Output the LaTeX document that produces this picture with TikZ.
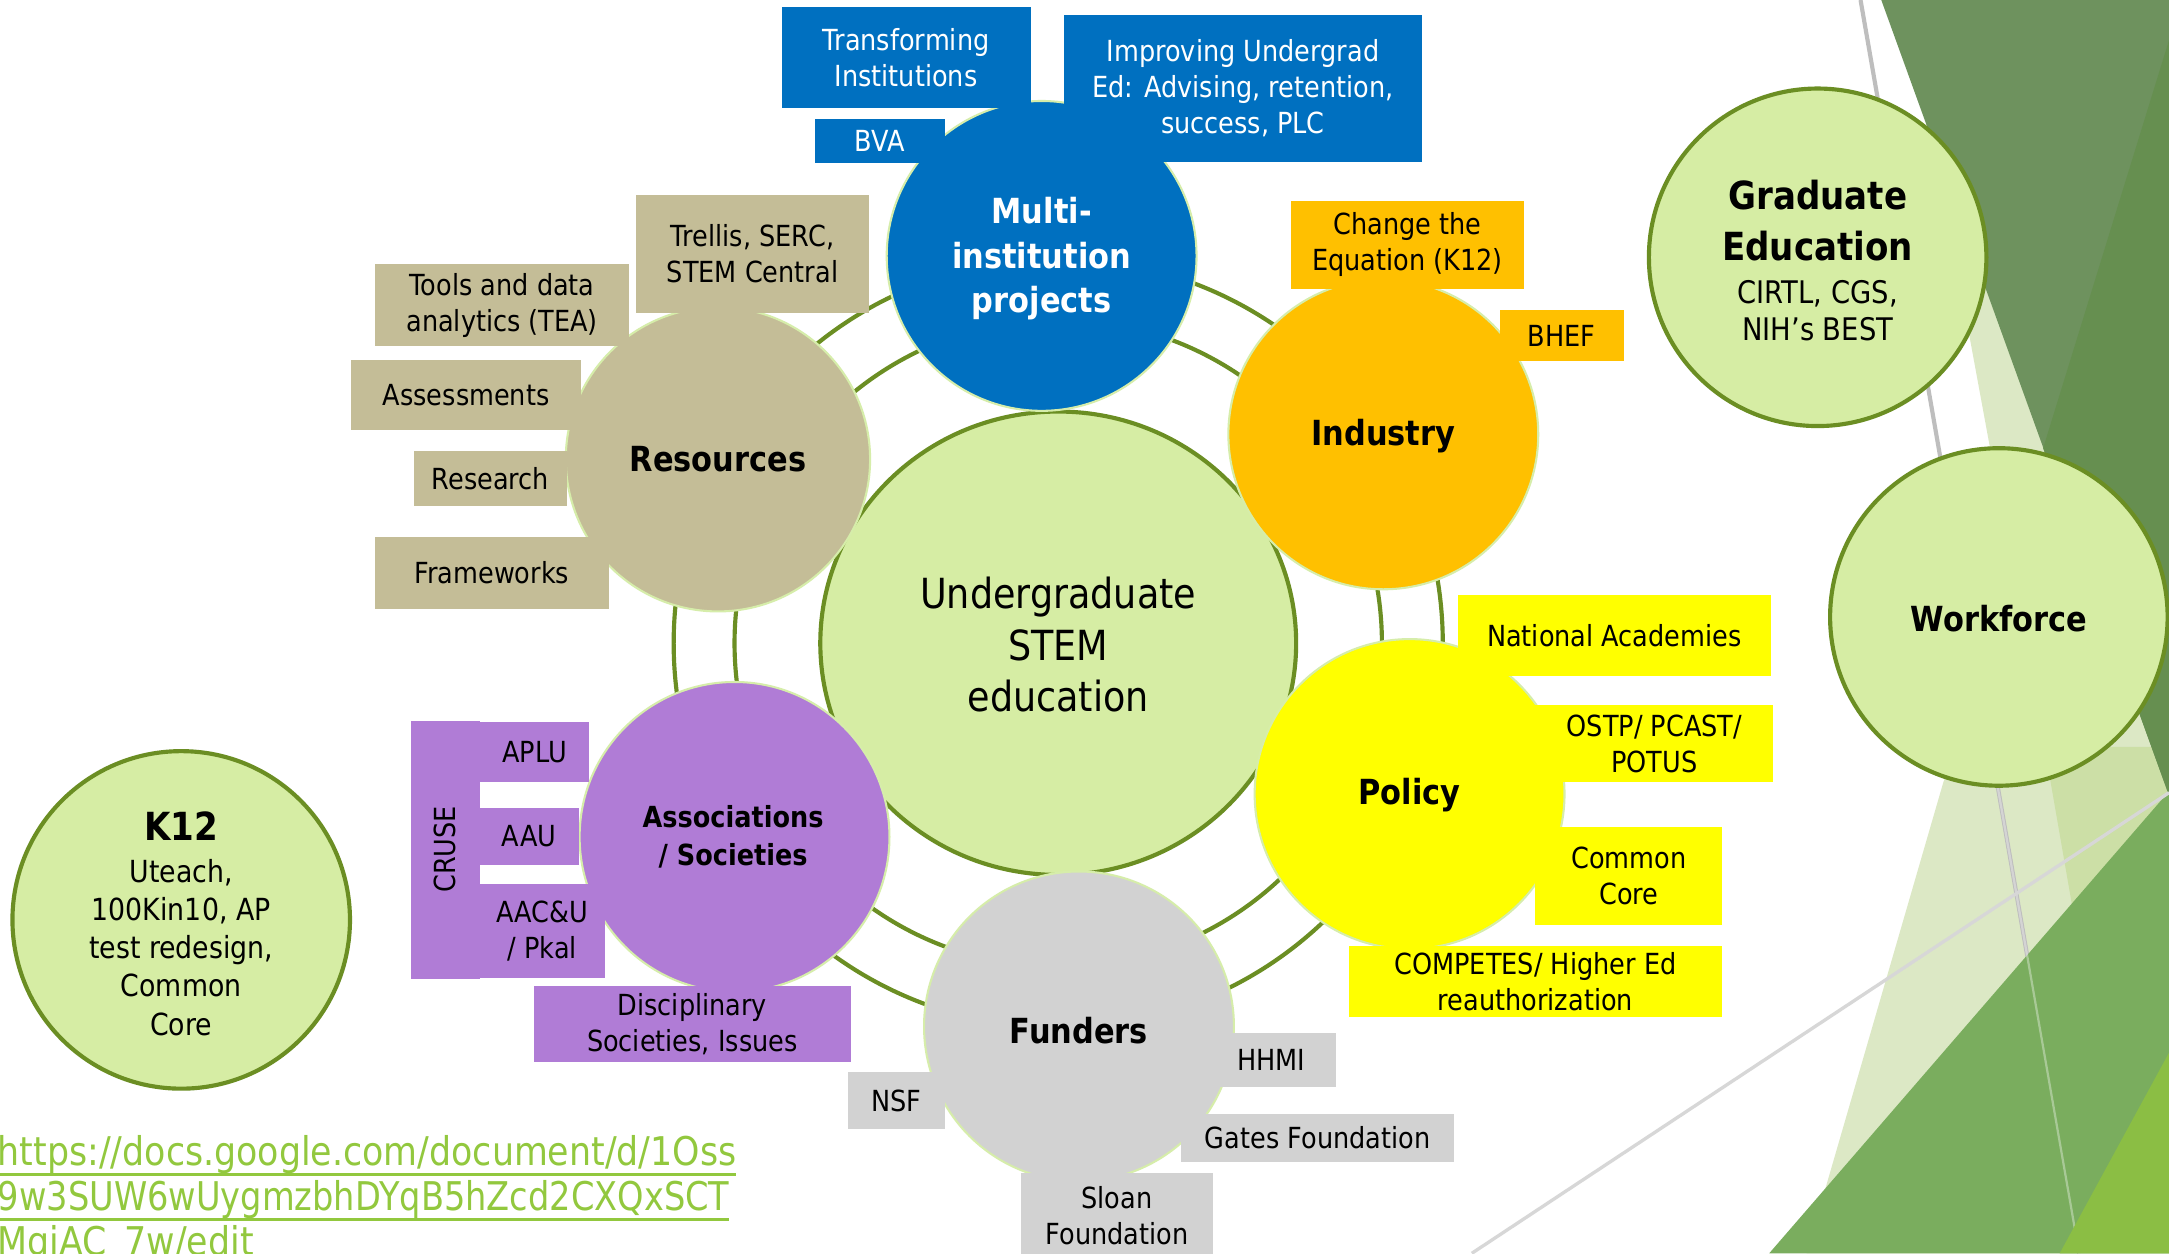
\documentclass[tikz,border=0pt]{standalone}
\usepackage{fontspec}
\setmainfont{DejaVu Sans}[FakeStretch=0.88]
\usetikzlibrary{shapes.geometric}
\definecolor{olivebd}{RGB}{107,142,35}
\definecolor{lgreen}{RGB}{214,237,164}
\definecolor{satedge}{RGB}{214,237,170}
\definecolor{mblue}{RGB}{0,112,192}
\definecolor{mtan}{RGB}{196,189,151}
\definecolor{morange}{RGB}{255,192,0}
\definecolor{myellow}{RGB}{255,255,0}
\definecolor{mgray}{RGB}{210,210,210}
\definecolor{mpurple}{RGB}{176,124,214}
\definecolor{urlgreen}{RGB}{146,200,62}
\definecolor{darkA}{RGB}{110,146,94}
\definecolor{darkB}{RGB}{102,143,80}
\definecolor{medgreen}{RGB}{122,173,94}
\definecolor{limegreen}{RGB}{139,190,68}
\definecolor{paleA}{RGB}{220,232,197}
\definecolor{paleB}{RGB}{204,223,166}
\definecolor{lineA}{RGB}{190,190,190}
\definecolor{lineB}{RGB}{215,215,215}
\newcommand\ulink[1]{\setbox0\hbox{#1}\rlap{\rule[-4pt]{\wd0}{1.4pt}}\box0}
\tikzset{
  sat/.style={circle, inner sep=0pt, draw=satedge, line width=0.75pt},
  bigc/.style={ellipse, inner sep=0pt, draw=olivebd, line width=1.5pt, fill=lgreen},
  ring/.style={draw=olivebd, line width=1.5pt},
  lbl/.style={rectangle, inner sep=0pt, align=center, font=\fontsize{10.5}{13}\selectfont},
  sattxt/.style={align=center, inner sep=0pt, font=\bfseries\fontsize{12.5}{16}\selectfont},
  subtxt/.style={align=center, inner sep=0pt, font=\fontsize{11}{13.75}\selectfont},
  urltxt/.style={anchor=base west, inner sep=0pt, text=urlgreen, font=\fontsize{14.3}{16.3}\selectfont},
}
\begin{document}
\begin{tikzpicture}[x=0.5pt,y=-0.5pt]
\useasboundingbox (0,0) rectangle (1568,906);
\fill[white] (0,0) rectangle (1568,906);
% background facets
\fill[paleA] (1379,0) -- (1568,0) -- (1568,906) -- (1306,906) -- (1405,565) -- (1460,440) -- cycle;
\fill[paleB] (1478,540) -- (1568,540) -- (1568,572) -- (1498,655) -- cycle;
\fill[darkA] (1360,0) -- (1568,0) -- (1568,575) -- cycle;
\fill[darkB] (1568,29) -- (1477,324) -- (1568,575) -- cycle;
\draw[lineA, line width=1.5] (1345,0) -- (1503,906);
\fill[medgreen] (1279,906) -- (1568,572) -- (1568,906) -- cycle;
\draw[white, opacity=0.35, line width=0.8] (1440,545) -- (1503,906);
\fill[limegreen] (1489,906) -- (1568,761) -- (1568,906) -- cycle;
\draw[lineB, line width=1.2] (1064,906) -- (1568,573);

% rings
\coordinate (hub) at (765,465);
\draw[ring] (hub) circle[radius=278];
\draw[ring] (hub) circle[radius=234];

% big green circles
\node[bigc, minimum width=172pt, minimum height=167.5pt] (ug) at (765,465) {};
\node[align=center, inner sep=0pt, font=\fontsize{15}{18.5}\selectfont] (ugt) at (765,466) {Undergraduate\\STEM\\education};
\node[bigc, minimum width=122pt, minimum height=122pt] (k12) at (131,665) {};
\node[sattxt, font=\bfseries\fontsize{14}{16}\selectfont] (k12h) at (131,597) {K12};
\node[subtxt] (k12t) at (131,685) {Uteach,\\100Kin10, AP\\test redesign,\\Common\\Core};
\node[bigc, minimum width=122pt, minimum height=122pt] (grad) at (1314,186) {};
\node[sattxt, font=\bfseries\fontsize{14}{18.5}\selectfont] (gradh) at (1314,159.5) {Graduate\\Education};
\node[subtxt, font=\fontsize{11.25}{13.5}\selectfont] (gradt) at (1314,224.5) {CIRTL, CGS,\\NIH’s BEST};
\node[bigc, minimum width=122pt, minimum height=122pt] (work) at (1445,446) {};
\node[sattxt] (workt) at (1445,447) {Workforce};

% satellites
\node[sat, fill=mblue, minimum size=112pt] (multi) at (753,185) {};
\node[sat, fill=mtan, minimum size=110pt] (res) at (519,332) {};
\node[sat, fill=morange, minimum size=112pt] (ind) at (1000,314) {};
\node[sat, fill=myellow, minimum size=112pt] (pol) at (1019,574) {};
\node[sat, fill=mgray, minimum size=112pt] (fund) at (780,742) {};
\node[sat, fill=mpurple, minimum size=112pt] (assoc) at (531,605) {};

\node[sattxt, text=white] (multit) at (753,187) {Multi-\\institution\\projects};
\node[sattxt] (rest) at (519,332) {Resources};
\node[sattxt] (indt) at (1000,315) {Industry};
\node[sattxt] (polt) at (1019,575) {Policy};
\node[sattxt] (fundt) at (780,745) {Funders};
\node[sattxt, font=\bfseries\fontsize{10.5}{14}\selectfont] (assoct) at (530,605) {Associations\\/ Societies};

% blue boxes
\node[lbl, fill=mblue, text=white, minimum width=90pt, minimum height=36.5pt] (ti) at (655,41.5) {Transforming\\Institutions};
\node[lbl, fill=mblue, text=white, minimum width=129.5pt, minimum height=53pt] (iu) at (898.5,64) {Improving Undergrad\\Ed: Advising, retention,\\success, PLC};
\node[lbl, fill=mblue, text=white, minimum width=47pt, minimum height=16pt] (bva) at (636,102) {BVA};
% tan boxes
\node[lbl, fill=mtan, minimum width=84pt, minimum height=42.5pt] (trellis) at (544,183.5) {Trellis, SERC,\\STEM Central};
\node[lbl, fill=mtan, minimum width=92pt, minimum height=29.5pt] (tools) at (363,220.5) {Tools and data\\analytics (TEA)};
\node[lbl, fill=mtan, minimum width=83pt, minimum height=25.5pt] (assess) at (337,285.5) {Assessments};
\node[lbl, fill=mtan, minimum width=55.5pt, minimum height=20pt] (research) at (354.5,346) {Research};
\node[lbl, fill=mtan, minimum width=84.5pt, minimum height=26pt] (frame) at (355.5,414) {Frameworks};
% orange boxes
\node[lbl, fill=morange, minimum width=84.5pt, minimum height=32pt] (cte) at (1017.5,177) {Change the\\Equation (K12)};
\node[lbl, fill=morange, minimum width=45pt, minimum height=18.5pt] (bhef) at (1129,242.5) {BHEF};
% yellow boxes
\node[lbl, fill=myellow, minimum width=113pt, minimum height=29.5pt] (nat) at (1167,459.5) {National Academies};
\node[lbl, fill=myellow, minimum width=86pt, minimum height=27.5pt] (ostp) at (1196,537.5) {OSTP/ PCAST/\\POTUS};
\node[lbl, fill=myellow, minimum width=67.5pt, minimum height=35.5pt] (cc) at (1177.5,633.5) {Common\\Core};
\node[lbl, fill=myellow, minimum width=135pt, minimum height=25.5pt] (comp) at (1110,709.5) {COMPETES/ Higher Ed\\reauthorization};
% purple boxes
\node[lbl, fill=mpurple, minimum width=25pt, minimum height=93pt] (cruse) at (322,614.5) {};
\node[lbl, rotate=90] (crusetxt) at (322,614) {CRUSE};
\node[lbl, fill=mpurple, minimum width=39.5pt, minimum height=21.5pt] (aplu) at (386.5,543.5) {APLU};
\node[lbl, fill=mpurple, minimum width=36pt, minimum height=20.5pt] (aau) at (382.5,604.5) {AAU};
\node[lbl, fill=mpurple, minimum width=45pt, minimum height=34pt] (aacu) at (392,673) {AAC\&U\\/ Pkal};
\node[lbl, fill=mpurple, minimum width=114.5pt, minimum height=27.5pt] (disc) at (500.5,740.5) {Disciplinary\\Societies, Issues};
% gray boxes
\node[lbl, fill=mgray, minimum width=35pt, minimum height=20.5pt] (nsf) at (648,795.5) {NSF};
\node[lbl, fill=mgray, minimum width=47pt, minimum height=19.5pt] (hhmi) at (919,766.5) {HHMI};
\node[lbl, fill=mgray, minimum width=98.5pt, minimum height=17.5pt] (gates) at (952.5,822.5) {Gates Foundation};
\node[lbl, fill=mgray, minimum width=69.5pt, minimum height=30.5pt] (sloan) at (807.5,878.5) {Sloan\\Foundation};

% URL
\node[urltxt] (url1) at (-2,842.4) {\ulink{https://docs.google.com/document/d/1Oss}};
\node[urltxt] (url2) at (-2,875) {\ulink{\addfontfeatures{FakeStretch=0.85}9w3SUW6wUygmzbhDYqB5hZcd2CXQxSCT}};
\node[urltxt] (url3) at (-2,907.6) {\ulink{MgiAC\_7w/edit}};
\end{tikzpicture}
\end{document}
